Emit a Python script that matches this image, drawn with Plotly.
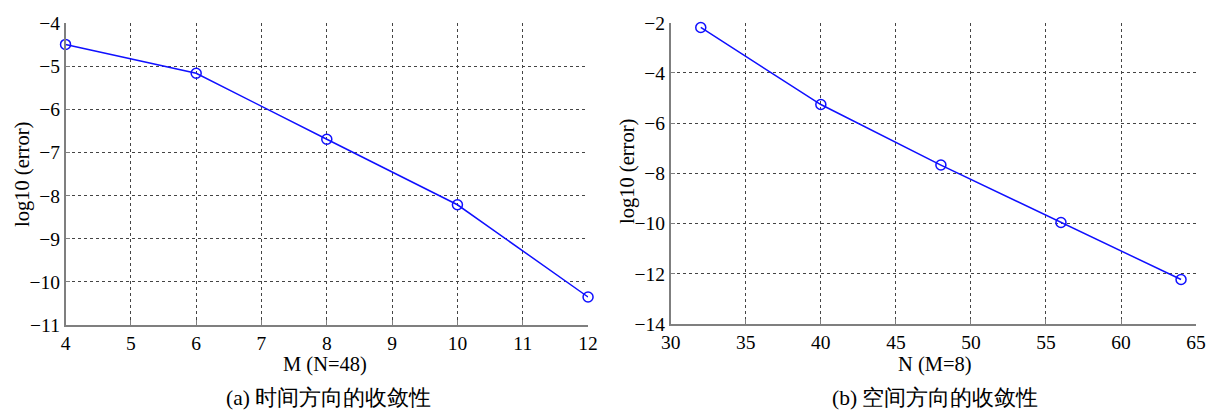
import plotly.graph_objects as go

# Data
M_values = [4, 6, 8, 10, 12]
err_time = [-4.49, -5.16, -6.69, -8.21, -10.35]
N_values = [32, 40, 48, 56, 64]
err_space = [-2.19, -5.26, -7.67, -9.96, -12.23]

x_title_a = "M (N=48)"
x_title_b = "N (M=8)"
y_title = "log10 (error)"
caption_a = "(a) 时间方向的收敛性"
caption_b = "(b) 空间方向的收敛性"

FONT = "Liberation Serif"
BLUE = "#1010ff"

fig = go.Figure()
fig.add_trace(go.Scatter(x=M_values, y=err_time, mode="lines+markers",
                         line=dict(color=BLUE, width=1.5),
                         marker=dict(symbol="circle-open", size=10, color=BLUE, line=dict(width=1.5)),
                         cliponaxis=False, xaxis="x", yaxis="y", showlegend=False))
fig.add_trace(go.Scatter(x=N_values, y=err_space, mode="lines+markers",
                         line=dict(color=BLUE, width=1.5),
                         marker=dict(symbol="circle-open", size=10, color=BLUE, line=dict(width=1.5)),
                         cliponaxis=False, xaxis="x2", yaxis="y2", showlegend=False))

axis_common = dict(showgrid=True, gridcolor="#444444", griddash="dot", gridwidth=1,
                   zeroline=False, showline=True, linecolor="#7f7f7f", linewidth=1.5,
                   ticks="inside", ticklen=5, tickcolor="#7f7f7f", automargin=False,
                   tickfont=dict(family=FONT, size=19.5, color="black"))

fig.update_layout(
    width=1216, height=411,
    margin=dict(l=0, r=0, t=0, b=0),
    paper_bgcolor="white", plot_bgcolor="white",
    font=dict(family=FONT, color="black"),
    xaxis=dict(domain=[0.0539, 0.4836], range=[4, 12], dtick=1, anchor="y", ticklabelstandoff=0, **axis_common),
    yaxis=dict(domain=[0.2092, 0.9433], range=[-11, -4], dtick=1, anchor="x", **axis_common),
    xaxis2=dict(domain=[0.5516, 0.9836], range=[30, 65], dtick=5, anchor="y2", ticklabelstandoff=0, **axis_common),
    yaxis2=dict(domain=[0.2117, 0.9448], range=[-14, -2], dtick=2, anchor="x2", **axis_common),
)

title_font = dict(family=FONT, size=20.5, color="black")
cap_font = dict(family=FONT, size=21.5, color="black")
annotations = [
    dict(text=x_title_a, x=325, y=411 - 364, font=title_font),
    dict(text=x_title_b, x=935, y=411 - 364, font=title_font),
    dict(text=caption_a, x=329, y=411 - 398, font=cap_font),
    dict(text=caption_b, x=935, y=411 - 398, font=cap_font),
]
for a in annotations:
    fig.add_annotation(text=a["text"], x=a["x"] / 1216, y=a["y"] / 411, xref="paper", yref="paper",
                       showarrow=False, font=a["font"], xanchor="center", yanchor="middle")
fig.add_annotation(text=y_title, x=22 / 1216, y=(411 - 175) / 411, xref="paper", yref="paper",
                   showarrow=False, font=title_font, textangle=-90, xanchor="center", yanchor="middle")
fig.add_annotation(text=y_title, x=627 / 1216, y=(411 - 172) / 411, xref="paper", yref="paper",
                   showarrow=False, font=title_font, textangle=-90, xanchor="center", yanchor="middle")

fig.write_html("out.html", config={"displayModeBar": False},
               post_script="document.body.style.margin='0px';")
